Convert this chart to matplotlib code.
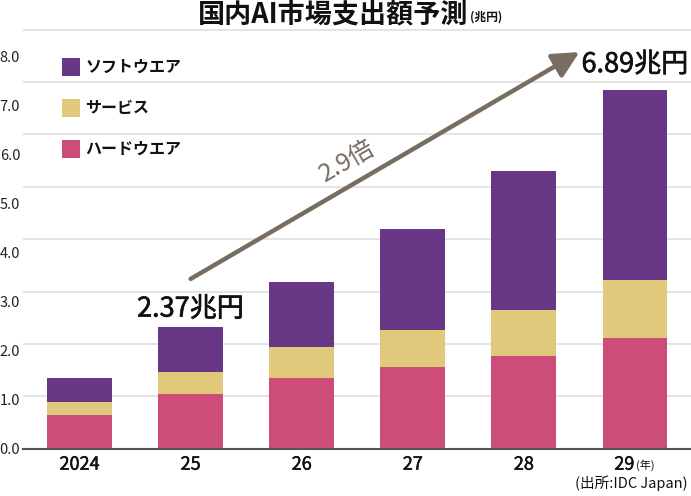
import numpy as np
import matplotlib
matplotlib.use('Agg')
import matplotlib.pyplot as plt
import matplotlib.patheffects as pe
from matplotlib.patches import Rectangle

# ---------------- data ----------------
years = ['2024', '25', '26', '27', '28', '29']
series_names = ['ソフトウエア', 'サービス', 'ハードウエア']
hardware = [0.64, 1.04, 1.34, 1.55, 1.77, 2.11]
service = [0.26, 0.42, 0.60, 0.72, 0.88, 1.10]
software = [0.45, 0.86, 1.25, 1.92, 2.65, 3.63]
ytick_labels = ['0.0', '1.0', '2.0', '3.0', '4.0', '5.0', '6.0', '7.0', '8.0']
label_25 = '2.37兆円'
label_29 = '6.89兆円'
growth_label = '2.9倍'
title_main = '国内AI市場支出額予測'
title_unit = '(兆円)'
year_unit = '(年)'
source = '(出所:IDC Japan)'

# ---------------- style ----------------
plt.rcParams['font.family'] = ['Noto Sans CJK JP', 'DejaVu Sans']
C_SOFT = '#673786'
C_SERV = '#e0c97a'
C_HARD = '#cd4d7a'
C_ARROW = '#776e61'
C_GRID = '#dcdcdc'
colors = [C_SOFT, C_SERV, C_HARD]
medium = [pe.withStroke(linewidth=0.35, foreground='#111111')]
medium_big = [pe.withStroke(linewidth=0.45, foreground='#111111')]

W, H = 691, 496
fig = plt.figure(figsize=(W / 100, H / 100), dpi=100)
fig.patch.set_facecolor('white')

zero_px, top_px, left_px = 448.7, 20, 23
ax = fig.add_axes([left_px / W, (H - zero_px) / H, (W - left_px) / W, (zero_px - top_px) / H])
x = np.arange(len(years))
ax.set_xlim((left_px - 79.5) / 111.1, (W - 79.5) / 111.1)
ax.set_ylim(0, (zero_px - top_px) / 52.4)

hardware = np.array(hardware)
service = np.array(service)
software = np.array(software)
totals = hardware + service + software
bw = 0.585
ax.bar(x, hardware, width=bw, color=C_HARD, zorder=3)
ax.bar(x, service, width=bw, bottom=hardware, color=C_SERV, zorder=3)
ax.bar(x, software, width=bw, bottom=hardware + service, color=C_SOFT, zorder=3)

for v in range(1, len(ytick_labels)):
    ax.axhline(v, color=C_GRID, lw=1.1, zorder=1)

for s in ['top', 'right', 'left']:
    ax.spines[s].set_visible(False)
ax.spines['bottom'].set_color('#555555')
ax.spines['bottom'].set_linewidth(1.5)
ax.spines['bottom'].set_zorder(4)

# tick labels in the reference are spaced slightly tighter than the gridlines
label_step = 0.935
ax.set_yticks([k * label_step for k in range(len(ytick_labels))], ytick_labels)
ax.tick_params(axis='y', length=0, pad=2, labelsize=10.5, labelcolor='#222222')
ax.set_xticks(x, years[:-1] + [''])
ax.tick_params(axis='x', length=0, pad=5, labelsize=13, labelcolor='#111111')
for lab in ax.get_xticklabels():
    lab.set_path_effects(medium)
ax.annotate(years[-1], xy=(x[-1], 0), xytext=(-0.5, -5), textcoords='offset points',
            ha='right', va='top', fontsize=13, color='#111111', annotation_clip=False,
            path_effects=medium)
ax.annotate(year_unit, xy=(x[-1], 0), xytext=(0.5, -8), textcoords='offset points',
            ha='left', va='top', fontsize=8, color='#111111', annotation_clip=False)

# value labels
ax.annotate(label_25, xy=(x[1], totals[1]), xytext=(0, 13), textcoords='offset points',
            ha='center', va='center', fontsize=19.5, color='#111111', annotation_clip=False,
            path_effects=medium_big)
ax.annotate(label_29, xy=(x[5], totals[5]), xytext=(0, 18.5), textcoords='offset points',
            ha='center', va='center', fontsize=19.5, color='#111111', annotation_clip=False,
            path_effects=medium_big)

# growth arrow
start = (x[1], totals[1] + 0.92)
end = (x[5] - 0.5, totals[5] + 0.73)
ax.annotate('', xy=end, xytext=start,
            arrowprops=dict(arrowstyle='-|>,head_length=1.6,head_width=0.8',
                            color=C_ARROW, lw=3.2, shrinkA=0, shrinkB=0),
            annotation_clip=False)
t = 0.404
mid = (start[0] + t * (end[0] - start[0]), start[1] + t * (end[1] - start[1]))
ax.annotate(growth_label, xy=mid, xytext=(0, 19), textcoords='offset points',
            ha='center', va='center', rotation=30, fontsize=18, color=C_ARROW,
            annotation_clip=False)

# legend
for i, (name, col) in enumerate(zip(series_names, colors)):
    cy = 66.5 + i * 41.3
    fig.add_artist(Rectangle((62 / W, 1 - (cy + 9) / H), 18 / W, 18 / H,
                             transform=fig.transFigure, facecolor=col, edgecolor='none'))
    fig.text(85 / W, 1 - cy / H, name, ha='left', va='center', fontsize=11.5,
             fontweight='bold', color='#111111')

# title
fig.text(468 / W, 1 - 15 / H, title_main, ha='right', va='center', fontsize=19.5,
         fontweight='bold', color='#111111')
fig.text(470 / W, 1 - 17 / H, title_unit, ha='left', va='center', fontsize=8.5,
         fontweight='bold', color='#111111')

fig.text(688 / W, 1 - 483 / H, source, ha='right', va='center', fontsize=10.5,
         color='#111111')

fig.savefig('out.png', dpi=100)
